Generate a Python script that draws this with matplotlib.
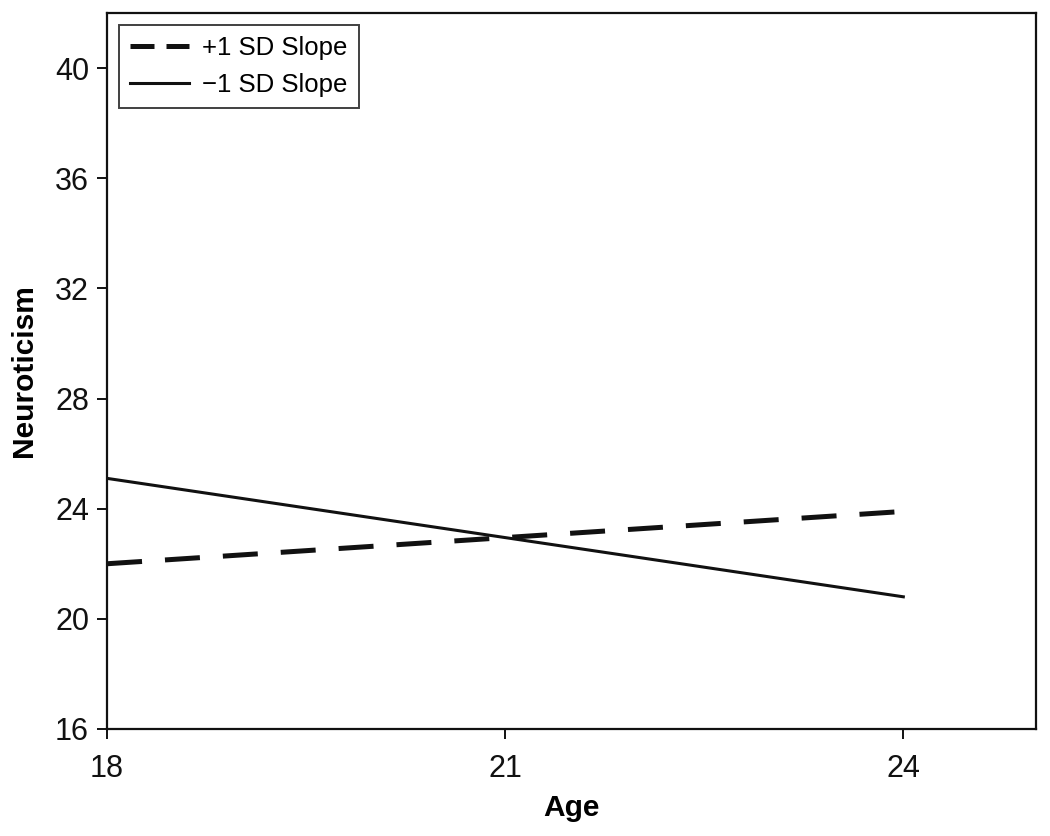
import matplotlib
matplotlib.use("Agg")
import matplotlib.pyplot as plt

# simple slopes
ages = [18, 21, 24]
plus_sd = [22.0, 22.95, 23.9]
minus_sd = [25.1, 22.95, 20.8]

x_ticks = [18, 21, 24]
y_ticks = [16, 20, 24, 28, 32, 36, 40]

plt.rcParams["font.family"] = ["Liberation Sans", "DejaVu Sans"]

fig = plt.figure(figsize=(10.5, 8.36), dpi=100)
ax = fig.add_axes([0.102, 0.128, 0.8847, 0.8565])

ax.plot(ages, plus_sd, color="#111111", lw=3.6, linestyle=(0, (7, 4.6)), label="+1 SD Slope")
ax.plot(ages, minus_sd, color="#111111", lw=2.2, label="\u22121 SD Slope")

ax.set_xlim(18, 25)
ax.set_ylim(16, 42)
ax.set_xticks(x_ticks)
ax.set_yticks(y_ticks)
ax.tick_params(direction="out", length=7, width=1.4, labelsize=22, colors="#111111", pad=6)
ax.tick_params(axis="x", pad=11)
for s in ax.spines.values():
	s.set_linewidth(1.6)
	s.set_color("#111111")

ax.set_xlabel("Age", fontsize=21.5, fontweight="bold", labelpad=7)
ax.set_ylabel("Neuroticism", fontsize=21.5, fontweight="bold", labelpad=12)

leg = ax.legend(loc="upper left", fontsize=18.5, frameon=True, fancybox=False,
	handlelength=2.3, borderaxespad=0.45, borderpad=0.45, labelspacing=0.5, handletextpad=0.5)
leg.get_frame().set_edgecolor("#111111")
leg.get_frame().set_linewidth(1.4)
# the legend sample shows two short dashes
leg.get_lines()[0].set_linestyle((0, (4.8, 2.4)))

fig.savefig("out.png", dpi=100)
